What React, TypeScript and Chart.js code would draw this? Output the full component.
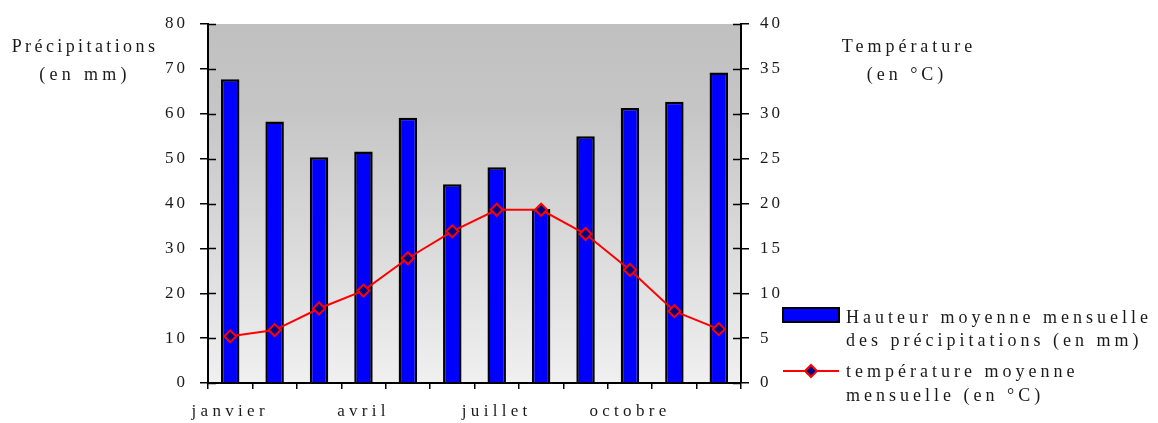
import React, { useEffect, useRef } from 'react';
import { Chart, registerables } from 'chart.js';

Chart.register(...registerables);

const months = ['janvier', 'février', 'mars', 'avril', 'mai', 'juin', 'juillet', 'août', 'septembre', 'octobre', 'novembre', 'décembre'];
const xTickLabels = ['janvier', '', '', 'avril', '', '', 'juillet', '', '', 'octobre', '', ''];
const precipitation = [67.7, 58.3, 50.3, 51.6, 59.1, 44.3, 48.1, 38.8, 55.0, 61.3, 62.7, 69.2];
const temperature = [5.2, 5.9, 8.3, 10.3, 13.9, 16.9, 19.3, 19.3, 16.6, 12.6, 8.0, 6.0];
const leftTitle = ['Précipitations', '(en mm)'];
const rightTitle = ['Température', '(en °C)'];
const barLegend = ['Hauteur moyenne mensuelle', 'des précipitations (en mm)'];
const lineLegend = ['température moyenne', 'mensuelle (en °C)'];

const FONT_FAMILY = '"Liberation Serif", "DejaVu Serif", serif';
const FONT_SIZE = 17;
const TEXT = '#1a1a1a';
const BAR_COLOR = '#0000ff';
const LINE_COLOR = '#ff0000';
const POINT_COLOR = '#000080';

const decor = {
  id: 'decor',
  beforeDraw(chart: any) {
    const { ctx, chartArea: a } = chart;
    (ctx as any).letterSpacing = '3px';
    ctx.save();
    const g = ctx.createLinearGradient(0, a.top, 0, a.bottom);
    g.addColorStop(0, '#c0c0c0');
    g.addColorStop(0.25, '#c6c6c6');
    g.addColorStop(0.5, '#d4d4d4');
    g.addColorStop(1, '#f0f0f0');
    ctx.fillStyle = g;
    ctx.fillRect(a.left, a.top, a.right - a.left, a.bottom - a.top);
    ctx.restore();
  },
  afterDatasetsDraw(chart: any) {
    // the x tick labels are drawn after the datasets (ticks.z: 1), with wider spacing
    (chart.ctx as any).letterSpacing = '4.3px';
  },
  afterDraw(chart: any) {
    const { ctx, chartArea: a } = chart;
    const y = chart.scales.y;
    const y1 = chart.scales.y1;
    ctx.save();
    ctx.strokeStyle = '#000';
    ctx.lineWidth = 1.5;
    y.ticks.forEach((t: any) => {
      const py = Math.round(y.getPixelForValue(t.value)) + 0.5;
      ctx.beginPath();
      ctx.moveTo(a.left, py);
      ctx.lineTo(a.left + 8, py);
      ctx.stroke();
    });
    y1.ticks.forEach((t: any) => {
      const py = Math.round(y1.getPixelForValue(t.value)) + 0.5;
      ctx.beginPath();
      ctx.moveTo(a.right - 8, py);
      ctx.lineTo(a.right, py);
      ctx.stroke();
    });

    ctx.fillStyle = TEXT;
    ctx.font = `18px ${FONT_FAMILY}`;
    ctx.textBaseline = 'middle';
    ctx.textAlign = 'center';
    (ctx as any).letterSpacing = '3.4px';
    ctx.fillText(leftTitle[0], 77, 39);
    (ctx as any).letterSpacing = '4.3px';
    ctx.fillText(leftTitle[1], 77, 67);
    (ctx as any).letterSpacing = '4px';
    ctx.fillText(rightTitle[0], a.right + 168, 39);
    ctx.fillText(rightTitle[1], a.right + 166, 67);

    // legend
    const lx = a.right + 42;
    const ds0 = chart.data.datasets[0];
    const ds1 = chart.data.datasets[1];
    ctx.fillStyle = ds0.backgroundColor;
    ctx.fillRect(lx, 300, 56, 14);
    ctx.strokeStyle = ds0.borderColor;
    ctx.lineWidth = 2;
    ctx.strokeRect(lx, 300, 56, 14);

    ctx.strokeStyle = ds1.borderColor;
    ctx.lineWidth = 2;
    ctx.beginPath();
    ctx.moveTo(lx, 363);
    ctx.lineTo(lx + 56, 363);
    ctx.stroke();
    const cx = lx + 28;
    const r = 6;
    ctx.beginPath();
    ctx.moveTo(cx - r, 363);
    ctx.lineTo(cx, 363 - r);
    ctx.lineTo(cx + r, 363);
    ctx.lineTo(cx, 363 + r);
    ctx.closePath();
    ctx.fillStyle = ds1.pointBackgroundColor;
    ctx.fill();
    ctx.strokeStyle = ds1.pointBorderColor;
    ctx.stroke();

    ctx.fillStyle = TEXT;
    ctx.textAlign = 'left';
    const tx = lx + 63;
    ctx.fillText(barLegend[0], tx, 310);
    ctx.fillText(barLegend[1], tx, 333);
    ctx.fillText(lineLegend[0], tx, 364);
    ctx.fillText(lineLegend[1], tx, 388);
    ctx.restore();
  },
};

export default function App() {
  const ref = useRef<HTMLCanvasElement>(null);
  useEffect(() => {
    if (!ref.current) return;
    const font = { family: FONT_FAMILY, size: FONT_SIZE };
    const chart = new Chart(ref.current, {
      type: 'bar',
      data: {
        labels: months,
        datasets: [
          {
            type: 'bar',
            label: barLegend.join(' '),
            data: precipitation,
            backgroundColor: BAR_COLOR,
            borderColor: '#000000',
            borderWidth: 2.5,
            categoryPercentage: 0.8,
            barPercentage: 0.52,
            yAxisID: 'y',
            order: 2,
          } as any,
          {
            type: 'line',
            label: lineLegend.join(' '),
            data: temperature,
            borderColor: LINE_COLOR,
            borderWidth: 2,
            pointStyle: 'rectRot',
            pointRadius: 6,
            pointBackgroundColor: POINT_COLOR,
            pointBorderColor: LINE_COLOR,
            pointBorderWidth: 2,
            tension: 0,
            yAxisID: 'y1',
            order: 1,
          } as any,
        ],
      },
      options: {
        animation: false,
        responsive: true,
        maintainAspectRatio: false,
        layout: { padding: { left: 0, top: 16, right: 349, bottom: 0 } },
        plugins: { legend: { display: false }, tooltip: { enabled: false } },
        scales: {
          x: {
            offset: true,
            grid: { offset: true, drawOnChartArea: false, drawTicks: true, tickLength: 6, color: '#000', lineWidth: 1.5 },
            border: { display: true, color: '#000', width: 2 },
            ticks: {
              z: 1,
              autoSkip: false,
              maxRotation: 0,
              minRotation: 0,
              padding: 12,
              font,
              color: TEXT,
              callback: (_v: any, i: number) => xTickLabels[i],
            },
            afterFit: (s: any) => { s.height = 40; s.paddingLeft = 0; s.paddingRight = 0; },
          },
          y: {
            position: 'left',
            min: 0,
            max: 80,
            grid: { drawOnChartArea: false, drawTicks: true, tickLength: 8, color: '#000', lineWidth: 1.5 },
            border: { display: true, color: '#000', width: 2 },
            ticks: { stepSize: 10, padding: 12, font, color: TEXT },
            afterFit: (s: any) => { s.width = 200; s.paddingTop = 0; s.paddingBottom = 0; },
          },
          y1: {
            position: 'right',
            min: 0,
            max: 40,
            grid: { drawOnChartArea: false, drawTicks: true, tickLength: 8, color: '#000', lineWidth: 1.5 },
            border: { display: true, color: '#000', width: 2 },
            ticks: { stepSize: 5, padding: 11, font, color: TEXT },
            afterFit: (s: any) => { s.width = 60; s.paddingTop = 0; s.paddingBottom = 0; },
          },
        },
      },
      plugins: [decor],
    });
    return () => chart.destroy();
  }, []);
  return (
    <div style={{ position: 'relative', width: 1142, height: 415 }}>
      <canvas ref={ref} />
    </div>
  );
}
